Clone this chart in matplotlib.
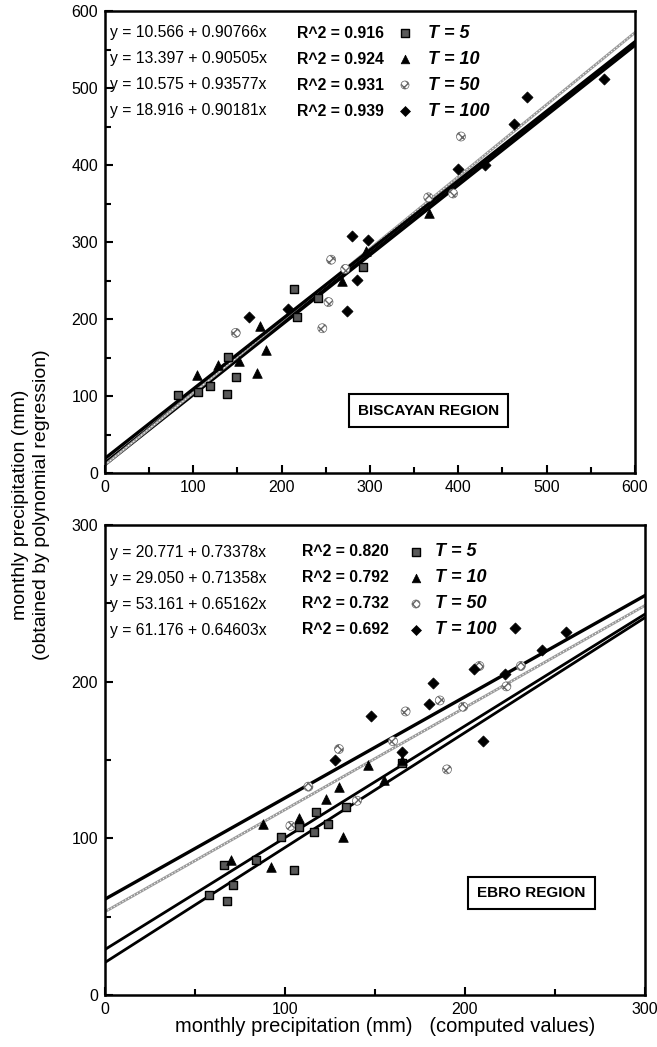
import matplotlib
matplotlib.use('Agg')
import matplotlib.pyplot as plt
from matplotlib.ticker import MultipleLocator

plt.rcParams['font.family'] = ['Liberation Sans', 'DejaVu Sans']

# ---- data ----
series = ['T = 5', 'T = 10', 'T = 50', 'T = 100']

# Biscayan region
bis_a = [10.566, 13.397, 10.575, 18.916]
bis_b = [0.90766, 0.90505, 0.93577, 0.90181]
bis_r2 = [0.916, 0.924, 0.931, 0.939]
bis_t5_x = [83, 105, 119, 138, 139, 148, 214, 217, 241, 292]
bis_t5_y = [101, 105, 113, 103, 151, 125, 239, 203, 227, 268]
bis_t10_x = [104, 128, 152, 172, 176, 182, 268, 295, 367]
bis_t10_y = [127, 140, 146, 130, 191, 160, 250, 288, 338]
bis_t50_x = [148, 246, 253, 256, 272, 366, 394, 403]
bis_t50_y = [182, 188, 222, 277, 265, 358, 363, 437]
bis_t100_x = [163, 207, 274, 280, 285, 298, 400, 430, 463, 478, 565]
bis_t100_y = [203, 213, 210, 308, 251, 302, 395, 400, 453, 488, 512]

# Ebro region
ebro_a = [20.771, 29.050, 53.161, 61.176]
ebro_b = [0.73378, 0.71358, 0.65162, 0.64603]
ebro_r2 = [0.820, 0.792, 0.732, 0.692]
ebro_t5_x = [58, 66, 68, 71, 84, 98, 105, 108, 116, 117, 124, 134, 165]
ebro_t5_y = [64, 83, 60, 70, 86, 101, 80, 107, 104, 117, 109, 120, 148]
ebro_t10_x = [70, 88, 92, 108, 123, 130, 132, 146, 155, 165]
ebro_t10_y = [86, 109, 82, 113, 125, 133, 101, 147, 137, 150]
ebro_t50_x = [103, 113, 130, 140, 160, 167, 186, 190, 199, 208, 223, 231]
ebro_t50_y = [108, 133, 157, 124, 162, 181, 188, 144, 184, 210, 197, 210]
ebro_t100_x = [128, 148, 165, 180, 182, 205, 210, 222, 228, 243, 256]
ebro_t100_y = [150, 178, 155, 186, 199, 208, 162, 205, 234, 220, 232]

# marker / line styles per return period
mk = [dict(marker='s', s=38, facecolor='0.35', edgecolor='k', linewidths=1.0),
      dict(marker='^', s=48, facecolor='k', edgecolor='k', linewidths=0.5),
      dict(marker='o', s=42, facecolor='white', edgecolor='0.4', hatch='xxxx', linewidths=0.5),
      dict(marker='D', s=32, facecolor='k', edgecolor='k', linewidths=0.5)]
ln = [dict(color='k', lw=2.0), dict(color='k', lw=2.0),
      dict(color='0.6', lw=2.0), dict(color='k', lw=2.4)]

W, H = 657, 1047


def px(x, y):
    # pixel (from top-left) -> figure fraction
    return x / W, 1 - y / H


def panel(ax, xmax, a, b, r2, xs, ys, region, box_xy, rows_y, cols_x):
    fig = ax.figure
    for i in range(4):
        ax.plot([0, xmax], [a[i], a[i] + b[i] * xmax], zorder=2, **ln[i])
        if i == 2:
            ax.plot([0, xmax], [a[i], a[i] + b[i] * xmax], color='white',
                    lw=0.8, ls=(0, (1, 2)), zorder=2)
        ax.scatter(xs[i], ys[i], zorder=3, **mk[i])

    # equation legend
    for i in range(4):
        yy = rows_y[i]
        fig.text(*px(cols_x[0], yy), f'y = {a[i]:.3f} + {b[i]:.5f}x',
                 fontsize=11.3, va='center')
        fig.text(*px(cols_x[1], yy), f'R^2 = {r2[i]:.3f}',
                 fontsize=11.3, fontweight='bold', va='center')
        style = dict(mk[i])
        style['s'] = style['s'] * 0.8
        mx, my = px(cols_x[2], yy)
        ax.scatter([mx], [my], transform=fig.transFigure, clip_on=False,
                   zorder=5, **style)
        fig.text(*px(cols_x[3], yy), series[i], fontsize=13,
                 fontweight='bold', style='italic', va='center')

    ax.text(box_xy[0], box_xy[1], region, transform=ax.transAxes, fontsize=11,
            fontweight='bold', ha='center', va='center',
            bbox=dict(boxstyle='square,pad=0.6', facecolor='white', edgecolor='k', lw=1.5))

    ax.set_xlim(0, xmax)
    ax.set_ylim(0, xmax)
    ax.xaxis.set_major_locator(MultipleLocator(100))
    ax.yaxis.set_major_locator(MultipleLocator(100))
    ax.xaxis.set_minor_locator(MultipleLocator(50))
    ax.yaxis.set_minor_locator(MultipleLocator(50))
    ax.tick_params(which='both', direction='in', top=False, right=False,
                   labelsize=11.5, width=1.5)
    ax.tick_params(which='major', length=6, pad=5)
    ax.tick_params(which='minor', length=4)
    for s in ax.spines.values():
        s.set_linewidth(1.8)


fig = plt.figure(figsize=(W / 100, H / 100), dpi=100)
# axes boxes from pixel positions
ax1 = fig.add_axes([105 / W, 1 - 473 / H, 530 / W, 462 / H])
ax2 = fig.add_axes([105 / W, 1 - 995 / H, 540 / W, 470 / H])

panel(ax1, 600, bis_a, bis_b, bis_r2,
      [bis_t5_x, bis_t10_x, bis_t50_x, bis_t100_x],
      [bis_t5_y, bis_t10_y, bis_t50_y, bis_t100_y],
      'BISCAYAN REGION', (0.61, 0.135),
      [33, 59, 85, 111], [110, 297, 405, 428])
panel(ax2, 300, ebro_a, ebro_b, ebro_r2,
      [ebro_t5_x, ebro_t10_x, ebro_t50_x, ebro_t100_x],
      [ebro_t5_y, ebro_t10_y, ebro_t50_y, ebro_t100_y],
      'EBRO REGION', (0.79, 0.217),
      [552, 578, 604, 630], [110, 302, 416, 435])

fig.text(*px(31, 505), 'monthly precipitation (mm)\n(obtained by polynomial regression)',
         rotation=90, ha='center', va='center', fontsize=14, linespacing=1.3)
fig.text(*px(385, 1027), 'monthly precipitation (mm)   (computed values)',
         ha='center', va='center', fontsize=14.5)

fig.savefig('out.png', dpi=100)
